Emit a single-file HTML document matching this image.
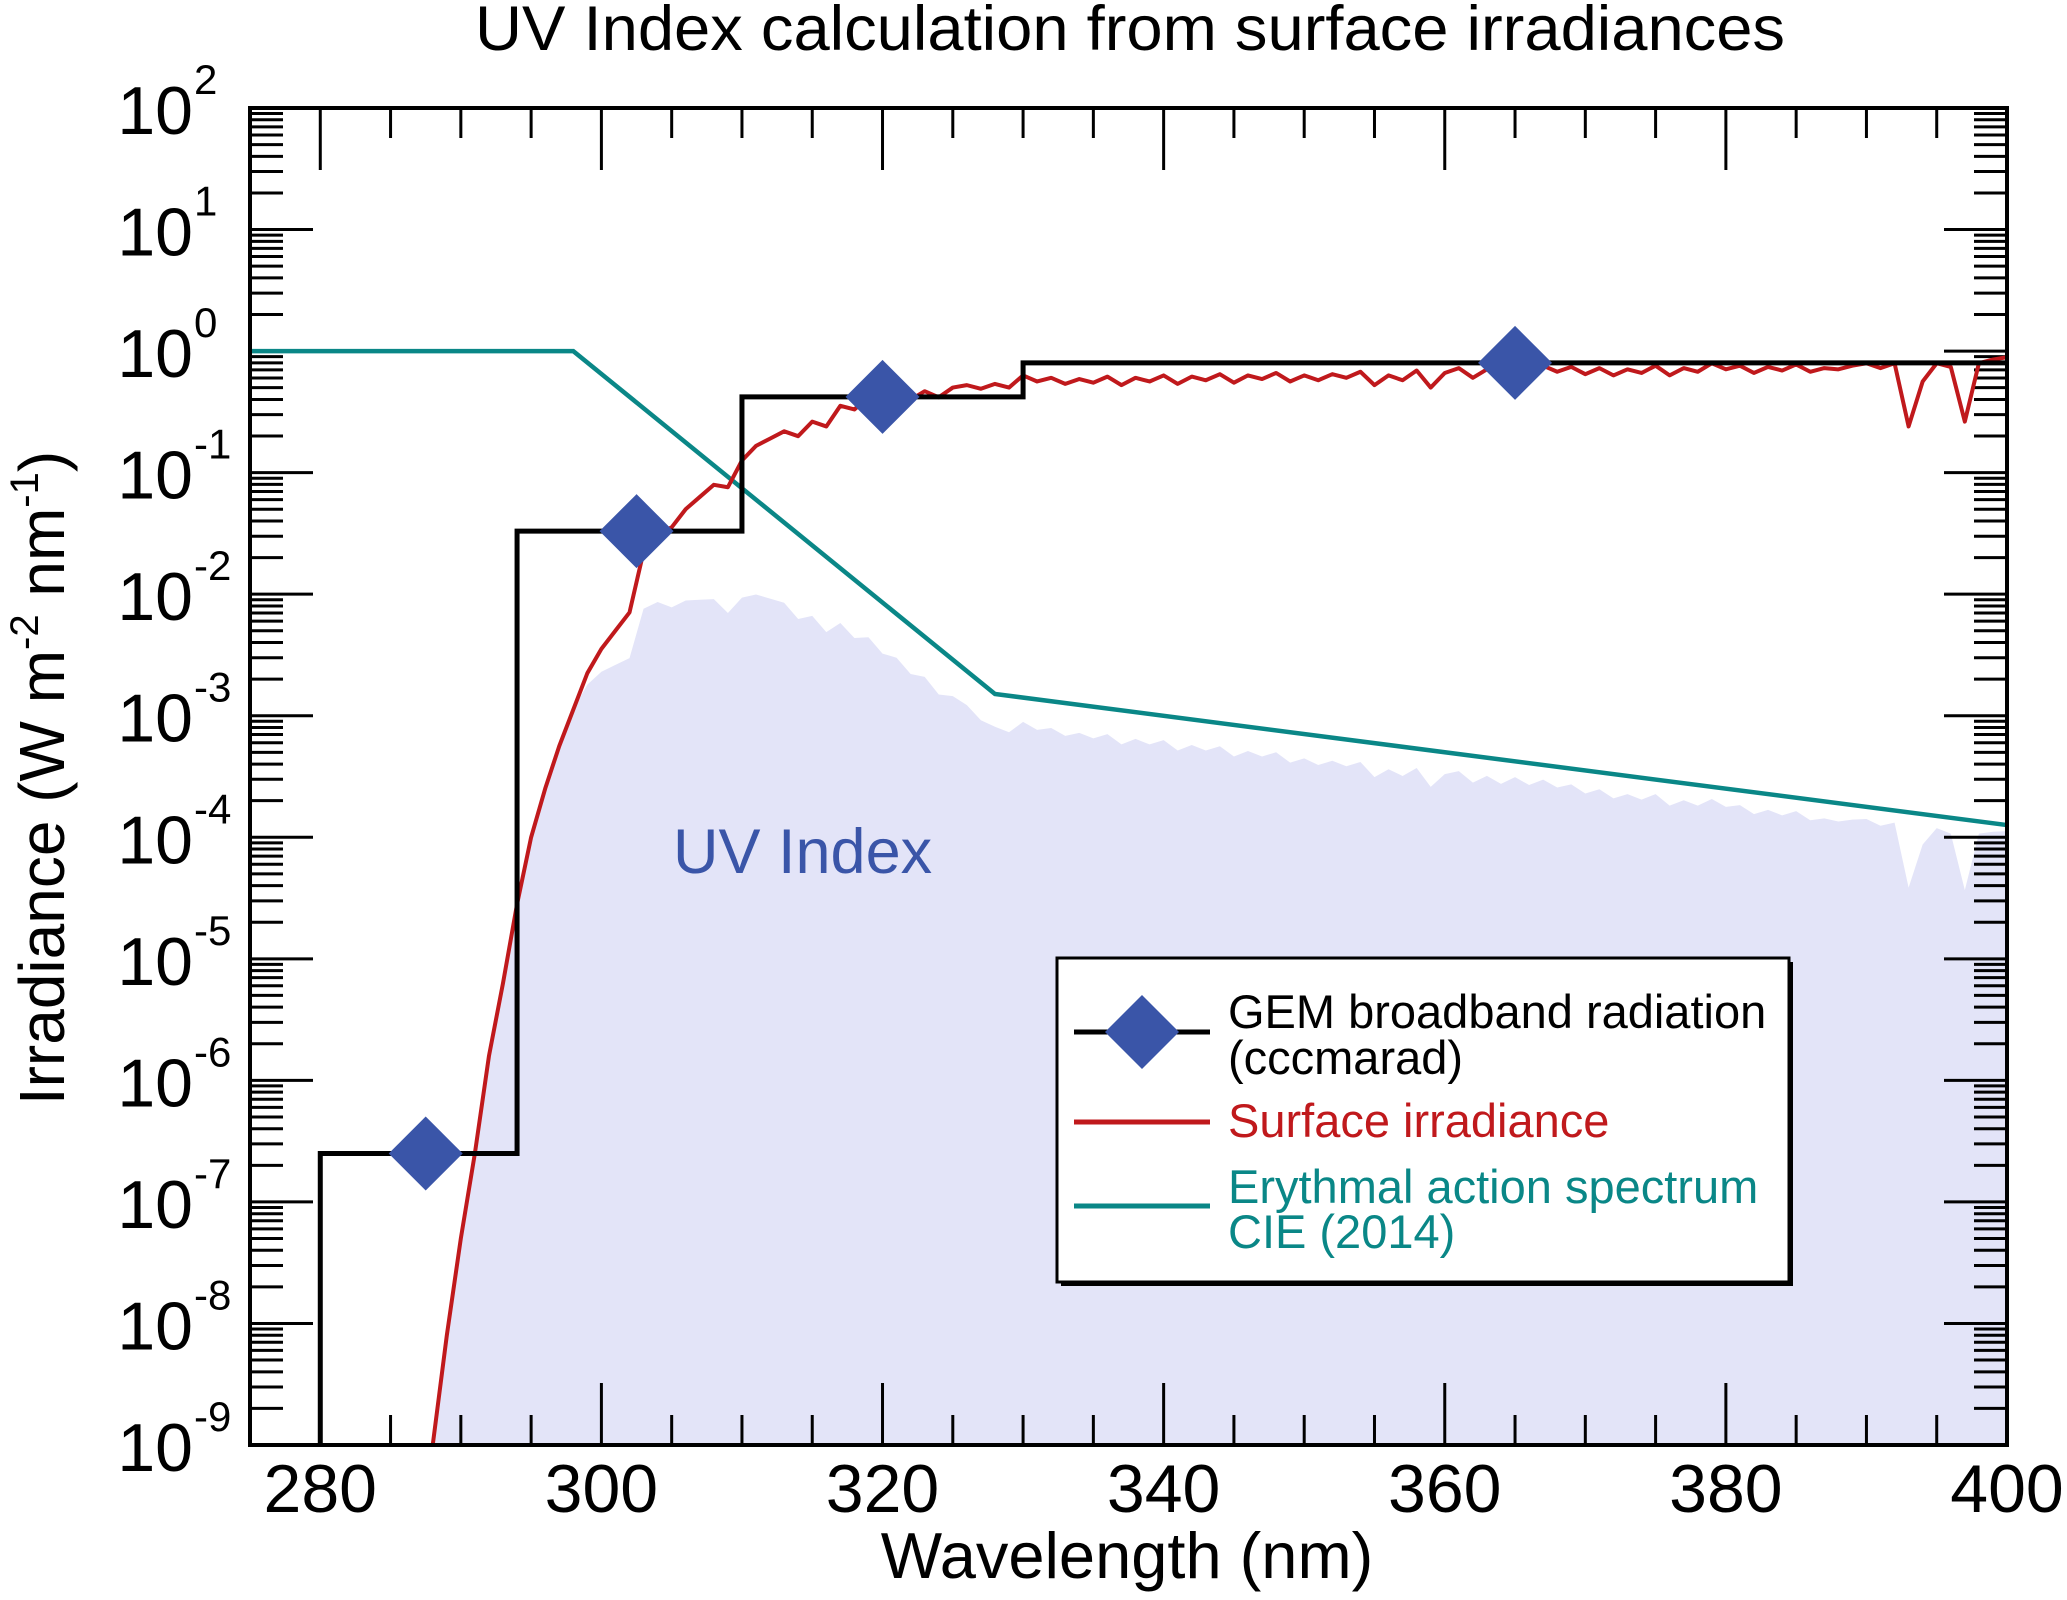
<!DOCTYPE html>
<html><head><meta charset="utf-8"><style>
html,body{margin:0;padding:0;background:#fff;}
svg{display:block;font-family:"Liberation Sans",sans-serif;}
</style></head><body>
<svg id="chart" width="2067" height="1600" viewBox="0 0 2067 1600" xmlns="http://www.w3.org/2000/svg">
<text x="1130" y="50" font-size="63" text-anchor="middle" fill="#000" textLength="1310" lengthAdjust="spacingAndGlyphs">UV Index calculation from surface irradiances</text>
<g id="fill"></g>
<g id="ticks"></g>
<g id="series"></g>
<rect x="250" y="108" width="1757" height="1337" fill="none" stroke="#000" stroke-width="4"/>
<text x="673" y="873" font-size="63" fill="#3a55a8">UV Index</text>
<g id="labels"></g>
<text x="1127" y="1578" font-size="65" text-anchor="middle">Wavelength (nm)</text>
<text transform="translate(64,778) rotate(-90)" font-size="64" text-anchor="middle">Irradiance (W m<tspan font-size="40" dy="-26">-2</tspan><tspan dy="26"> nm</tspan><tspan font-size="40" dy="-26">-1</tspan><tspan dy="26">)</tspan></text>
<g>
<rect x="1061" y="962" width="732" height="324" fill="#000"/>
<rect x="1057" y="958" width="732" height="324" fill="#fff" stroke="#000" stroke-width="3"/>
<line x1="1074" y1="1032" x2="1210" y2="1032" stroke="#000" stroke-width="5"/>
<polygon points="1142,995 1179,1032 1142,1069 1105,1032" fill="#3a55a8"/>
<text x="1228" y="1028" font-size="47">GEM broadband radiation</text>
<text x="1228" y="1074" font-size="47">(cccmarad)</text>
<line x1="1074" y1="1122" x2="1210" y2="1122" stroke="#c0191c" stroke-width="5"/>
<text x="1228" y="1137" font-size="47" fill="#c0191c">Surface irradiance</text>
<line x1="1074" y1="1206" x2="1210" y2="1206" stroke="#0a8787" stroke-width="5"/>
<text x="1228" y="1203" font-size="47" fill="#0a8787">Erythmal action spectrum</text>
<text x="1228" y="1248" font-size="47" fill="#0a8787">CIE (2014)</text>
</g>
</svg>
<script>
const xTicks=[280,300,320,340,360,380,400];
const yExps=[-9,-8,-7,-6,-5,-4,-3,-2,-1,0,1,2];
const redWl=[288,289,290,291,292,293,294,295,296,297,298,299,300,301,302,303,304,305,306,307,308,309,310,311,312,313,314,315,316,317,318,319,320,321,322,323,324,325,326,327,328,329,330,331,332,333,334,335,336,337,338,339,340,341,342,343,344,345,346,347,348,349,350,351,352,353,354,355,356,357,358,359,360,361,362,363,364,365,366,367,368,369,370,371,372,373,374,375,376,377,378,379,380,381,382,383,384,385,386,387,388,389,390,391,392,393,394,395,396,397,398,399,400];
const redLog=[-9.0,-8.1,-7.3,-6.6,-5.8,-5.2,-4.55,-4.0,-3.6,-3.25,-2.95,-2.65,-2.45,-2.3,-2.15,-1.65,-1.5,-1.45,-1.3,-1.2,-1.1,-1.12,-0.9,-0.78,-0.72,-0.66,-0.7,-0.58,-0.62,-0.45,-0.48,-0.38,-0.42,-0.36,-0.4,-0.33,-0.38,-0.3,-0.28,-0.31,-0.27,-0.3,-0.2,-0.25,-0.22,-0.27,-0.23,-0.26,-0.21,-0.28,-0.22,-0.25,-0.2,-0.27,-0.21,-0.24,-0.19,-0.26,-0.2,-0.23,-0.18,-0.25,-0.2,-0.24,-0.19,-0.22,-0.17,-0.28,-0.2,-0.24,-0.16,-0.3,-0.18,-0.14,-0.22,-0.15,-0.2,-0.13,-0.18,-0.12,-0.17,-0.13,-0.19,-0.14,-0.2,-0.15,-0.18,-0.12,-0.2,-0.14,-0.17,-0.1,-0.15,-0.12,-0.18,-0.13,-0.16,-0.11,-0.17,-0.14,-0.15,-0.12,-0.1,-0.14,-0.1,-0.62,-0.25,-0.1,-0.13,-0.58,-0.1,-0.07,-0.05];
const eryWl=[275,298,328,400];
const eryVal=[1,1,1.51e-3,1.26e-4];
const stepWl=[280,294,310,330,400];
const stepVal=[2.5e-7,3.3e-2,0.42,0.8];
const diaWl=[287.5,302.5,320,365];
const diaVal=[2.5e-7,3.3e-2,0.42,0.8];

const L=250,R=2007,T=108,B=1445;
const X=w=>L+(w-275)/125*(R-L);
const Y=v=>B-(Math.log10(v)+9)/11*(B-T);
const YL=l=>B-(l+9)/11*(B-T);
const NS="http://www.w3.org/2000/svg";
function mk(tag,attrs,parent){const e=document.createElementNS(NS,tag);for(const k in attrs)e.setAttribute(k,attrs[k]);parent.appendChild(e);return e;}
const gT=document.getElementById('ticks'),gS=document.getElementById('series'),gF=document.getElementById('fill'),gL=document.getElementById('labels');

function eryLog(w){for(let i=0;i<eryWl.length-1;i++){if(w<=eryWl[i+1]){const t=(w-eryWl[i])/(eryWl[i+1]-eryWl[i]);return Math.log10(eryVal[i])+t*(Math.log10(eryVal[i+1])-Math.log10(eryVal[i]));}}return Math.log10(eryVal[eryVal.length-1]);}
let d=`M${X(redWl[0])},${B}`;
redWl.forEach((w,i)=>{const l=Math.max(-9,redLog[i]+eryLog(w));d+=` L${X(w)},${YL(l)}`;});
d+=` L${X(redWl[redWl.length-1])},${B} Z`;
const fp=mk('path',{d:d,fill:'#e3e4f8'},gF);



for(let w=275;w<=400;w+=5){const big=(w%20===0);const len=big?62:30;
mk('line',{x1:X(w),y1:B,x2:X(w),y2:B-len,stroke:'#000','stroke-width':3},gT);
mk('line',{x1:X(w),y1:T,x2:X(w),y2:T+len,stroke:'#000','stroke-width':3},gT);}
yExps.forEach(e=>{for(let m=1;m<=9;m++){if(e===2&&m>1)break;const y=Y(m*Math.pow(10,e));const len=m===1?63:33;
mk('line',{x1:L,y1:y,x2:L+len,y2:y,stroke:'#000','stroke-width':3},gT);
mk('line',{x1:R,y1:y,x2:R-len,y2:y,stroke:'#000','stroke-width':3},gT);}});
xTicks.forEach(w=>{const t=mk('text',{x:X(w),y:1512,'font-size':68,'text-anchor':'middle'},gL);t.textContent=w;

});
yExps.forEach(e=>{const t=mk('text',{x:193,y:Y(Math.pow(10,e))+26,'font-size':68,'text-anchor':'end'},gL);t.textContent='10';


const s=mk('text',{x:194,y:Y(Math.pow(10,e))-14,'font-size':42},gL);s.textContent=e;});

const ep=mk('polyline',{points:eryWl.map((w,i)=>X(w)+','+Y(eryVal[i])).join(' '),fill:'none',stroke:'#0a8787','stroke-width':4.5},gS);


const rp=mk('polyline',{points:redWl.map((w,i)=>X(w)+','+YL(redLog[i])).join(' '),fill:'none',stroke:'#c0191c','stroke-width':4,'stroke-linejoin':'round'},gS);


let sp=`${X(stepWl[0])},${B}`;
stepVal.forEach((v,i)=>{sp+=` ${X(stepWl[i])},${Y(v)} ${X(stepWl[i+1])},${Y(v)}`;});
const st=mk('polyline',{points:sp,fill:'none',stroke:'#000','stroke-width':5},gS);


diaWl.forEach((w,i)=>{const x=X(w),y=Y(diaVal[i]),r=37;
const p=mk('polygon',{points:`${x},${y-r} ${x+r},${y} ${x},${y+r} ${x-r},${y}`,fill:'#3a55a8'},gS);

});
</script>
</body></html>
